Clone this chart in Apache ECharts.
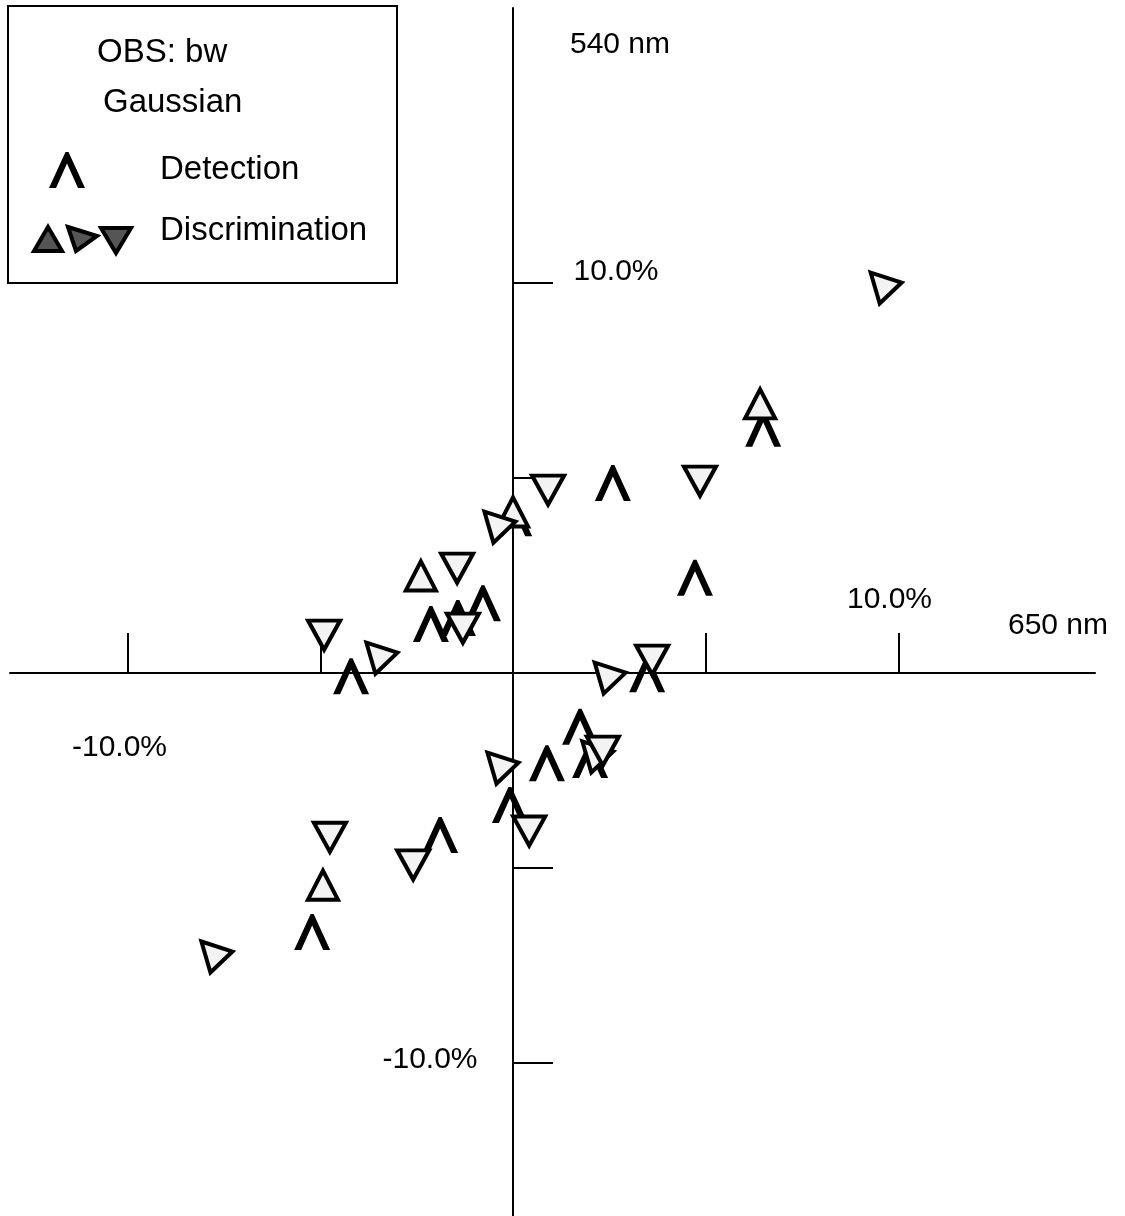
<!DOCTYPE html>
<html>
<head>
<meta charset="utf-8">
<script src="https://cdn.jsdelivr.net/npm/echarts@6/dist/echarts.min.js"></script>
<style>
  html, body { margin: 0; padding: 0; background: #fff; }
  #chart { width: 1125px; height: 1216px; }
</style>
</head>
<body>
<div id="chart"></div>
<script>
// ---- data (percent shifts, x = 650 nm, y = 540 nm) ----
const detection = [
  [2.59, 4.87], [6.49, 6.26], [4.72, 2.44], [-0.78, 1.79], [-2.13, 1.26],
  [-1.43, 1.41], [-4.20, -0.08], [3.48, -0.03], [1.74, -1.38], [0.88, -2.31],
  [-0.08, -3.38], [2.00, -2.23], [-1.89, -4.15], [-5.21, -6.64], [0.03, 3.97]
];
const discUp = [
  [-2.39, 2.49], [-4.93, -5.44], [6.41, 6.90], [0.00, 4.13]
];
const discRight = [
  [9.68, 9.87], [-3.40, 0.38], [2.52, -0.13], [-0.26, -2.44],
  [-7.68, -7.28], [-0.34, 3.74], [2.20, -2.15]
];
const discDown = [
  [0.91, 4.69], [4.85, 4.92], [-1.45, 2.69], [-4.90, 0.97], [3.61, 0.33],
  [-4.75, -4.21], [-2.59, -4.92], [0.42, -4.05], [-1.30, 1.15], [2.33, -2.00]
];
const xTicks = [-10, -5, 5, 10];
const yTicks = [-10, -5, 5, 10];
const labeledTicks = [-10, 10];
const xName = '650 nm';
const yName = '540 nm';
const legendTitle = ['OBS: bw', 'Gaussian'];
const legendItems = ['Detection', 'Discrimination'];

// ---- layout / styles ----
const X_MIN = -13.048, X_MAX = 15.097, Y_MIN = -13.92, Y_MAX = 17.05;
const FONT = '"Liberation Sans", Arial, Helvetica, sans-serif';
const TICK_FONT = 30, LEGEND_FONT = 33;
const LAMBDA = 'path://M0,36L16.5,0L19.5,0L36,36L29,36L18,11.5L7,36Z';
const TRI_UP = 'path://M15,0L30,29L0,29Z';
const TRI_DOWN = 'path://M0,0L32,0L16,29Z';
const TRI_RIGHT = 'path://M0,0L31,10L9,31Z';
const DISC_STYLE = { color: '#f3f3f3', borderColor: '#000', borderWidth: 4, opacity: 1 };

const labelOffsets = {
  'x:10': [-9, -73], 'x:-10': [-8, 75],
  'y:10': [103, -11], 'y:-10': [-83, -3],
  'name:x': [-37, -47], 'name:y': [107, 37]
};
const fmt = v => v.toFixed(1) + '%';
const labelData = [];
labeledTicks.forEach(v => labelData.push({ value: [v, 0], name: fmt(v), label: { offset: labelOffsets['x:' + v] } }));
labeledTicks.forEach(v => labelData.push({ value: [0, v], name: fmt(v), label: { offset: labelOffsets['y:' + v] } }));
labelData.push({ value: [X_MAX, 0], name: xName, label: { offset: labelOffsets['name:x'] } });
labelData.push({ value: [0, Y_MAX], name: yName, label: { offset: labelOffsets['name:y'] } });

const axisCommon = {
  type: 'value',
  axisLine: { onZero: true, lineStyle: { color: '#000', width: 2 } },
  axisLabel: { show: false },
  splitLine: { show: false }
};

// legend graphics
function poly(cx, cy, pts, fill, stroke, lw) {
  return { type: 'polygon', shape: { points: pts.map(p => [cx + p[0], cy + p[1]]) },
           style: { fill: fill, stroke: stroke, lineWidth: lw } };
}
function txt(x, y, s) {
  return { type: 'text', x: x, y: y,
           style: { text: s, font: LEGEND_FONT + 'px ' + FONT, fill: '#000', textVerticalAlign: 'middle' } };
}
const legendGraphics = [
  { type: 'rect', shape: { x: 8, y: 6, width: 389, height: 277 },
    style: { fill: '#fff', stroke: '#000', lineWidth: 2 } },
  txt(97, 53, legendTitle[0]),
  txt(103, 103, legendTitle[1]),
  txt(160, 170, legendItems[0]),
  txt(160, 231, legendItems[1]),
  poly(67, 170, [[-18, 18], [-1.5, -18], [1.5, -18], [18, 18], [11, 18], [0, -6.5], [-11, 18]], '#000', null, 0),
  poly(48, 239, [[0, -12], [14, 12], [-14, 12]], '#555', '#000', 4),
  poly(82, 238, [[-14, -11], [15, -2], [-6, 13]], '#555', '#000', 4),
  poly(116, 240, [[-15, -12], [15, -12], [0, 13]], '#555', '#000', 4)
];

const chart = echarts.init(document.getElementById('chart'), null, { renderer: 'canvas' });
chart.setOption({
  backgroundColor: '#fff',
  animation: false,
  grid: { left: 10, right: 30, top: 8, bottom: 0, containLabel: false },
  xAxis: Object.assign({}, axisCommon, {
    min: X_MIN, max: X_MAX,
    axisTick: { show: true, inside: true, length: 40, customValues: xTicks, lineStyle: { color: '#000', width: 2 } }
  }),
  yAxis: Object.assign({}, axisCommon, {
    min: Y_MIN, max: Y_MAX,
    axisTick: { show: true, inside: true, length: 40, customValues: yTicks, lineStyle: { color: '#000', width: 2 } }
  }),
  series: [
    { name: 'axis text', type: 'scatter', data: labelData, symbolSize: 1, silent: true, z: 1,
      itemStyle: { color: 'rgba(0,0,0,0)', opacity: 1 },
      label: { show: true, position: 'inside', formatter: p => p.name, color: '#000', opacity: 1,
               fontSize: TICK_FONT, fontFamily: FONT } },
    { name: 'Detection', type: 'scatter', data: detection, symbol: LAMBDA, symbolSize: [36, 36],
      itemStyle: { color: '#000', borderWidth: 0, opacity: 1 }, z: 3 },
    { name: 'Discrimination up', type: 'scatter', data: discUp, symbol: TRI_UP, symbolSize: [30, 29],
      itemStyle: DISC_STYLE, z: 4 },
    { name: 'Discrimination right', type: 'scatter', data: discRight, symbol: TRI_RIGHT, symbolSize: [31, 31],
      itemStyle: DISC_STYLE, z: 4 },
    { name: 'Discrimination down', type: 'scatter', data: discDown, symbol: TRI_DOWN, symbolSize: [32, 29],
      itemStyle: DISC_STYLE, z: 4 }
  ],
  graphic: { elements: legendGraphics }
});
</script>
</body>
</html>
